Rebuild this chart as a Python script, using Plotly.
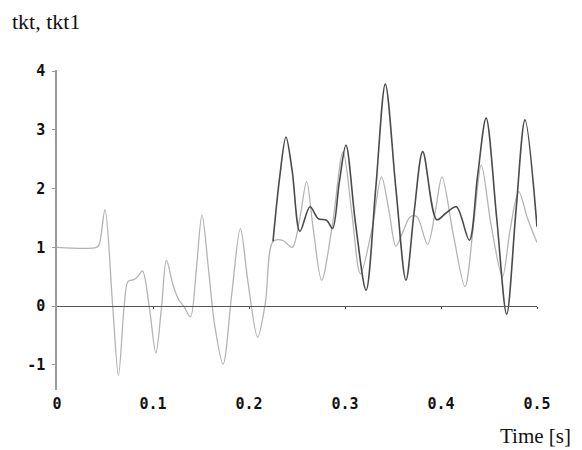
import plotly.graph_objects as go

# tkt1: response sampled at the turning points (time in s)
t_tkt1 = [0.000, 0.041, 0.044, 0.050, 0.058, 0.064, 0.070, 0.074, 0.080, 0.084,
          0.089, 0.096, 0.103, 0.109, 0.114, 0.121, 0.127, 0.132, 0.139, 0.145,
          0.151, 0.158, 0.164, 0.173, 0.182, 0.191, 0.199, 0.209, 0.217, 0.225,
          0.235, 0.245, 0.253, 0.260, 0.267, 0.2757, 0.287, 0.298, 0.307, 0.316,
          0.328, 0.338, 0.346, 0.353, 0.360, 0.368, 0.375, 0.386, 0.394, 0.401,
          0.413, 0.425, 0.434, 0.442, 0.452, 0.464, 0.472, 0.481, 0.490, 0.500]
y_tkt1 = [1.00, 1.00, 1.05, 1.64, 0.00, -1.18, 0.00, 0.42, 0.45, 0.50,
          0.60, 0.00, -0.80, 0.00, 0.78, 0.35, 0.10, 0.00, -0.18, 0.60,
          1.55, 0.60, -0.30, -0.99, 0.20, 1.32, 0.40, -0.53, 0.05, 1.10,
          1.12, 1.00, 1.50, 2.12, 1.30, 0.44, 1.40, 2.63, 1.60, 0.55,
          1.30, 2.20, 1.60, 1.02, 1.25, 1.52, 1.52, 1.05, 1.60, 2.20,
          1.20, 0.33, 1.40, 2.40, 1.40, 0.50, 1.30, 1.95, 1.50, 1.08]

# tkt: identical to tkt1 until ~0.225 s, then diverges
t_tkt = [0.225, 0.232, 0.2385, 0.245, 0.253, 0.2635, 0.272, 0.281, 0.287,
         0.294, 0.301, 0.311, 0.322, 0.332, 0.342, 0.353, 0.3635, 0.372, 0.381,
         0.3955, 0.405, 0.416, 0.4295, 0.438, 0.447, 0.458, 0.4684, 0.478, 0.4875,
         0.500]
y_tkt = [1.10, 2.20, 2.88, 2.30, 1.27, 1.69, 1.49, 1.46, 1.32,
         2.10, 2.74, 1.40, 0.27, 2.00, 3.78, 2.00, 0.44, 1.60, 2.63,
         1.47, 1.58, 1.69, 1.12, 2.20, 3.20, 1.50, -0.14, 1.60, 3.17,
         1.35]

x_ticks = [0, 0.1, 0.2, 0.3, 0.4, 0.5]
x_ticktext = ["0", "0.1", "0.2", "0.3", "0.4", "0.5"]
y_ticks = [-1, 0, 1, 2, 3, 4]
y_ticktext = ["-1", "0", "1", "2", "3", "4"]

Y_MIN, Y_MAX = -1.43, 4.02
tick_font = dict(family="DejaVu Sans Mono", size=15, color="#111111", weight="bold")

fig = go.Figure()
fig.add_trace(go.Scatter(
    x=t_tkt1, y=y_tkt1, mode="lines", name="tkt1",
    line=dict(color="#b4b4b4", width=1.3, shape="spline", smoothing=0.9),
    xaxis="x", yaxis="y", hoverinfo="skip"))
fig.add_trace(go.Scatter(
    x=t_tkt, y=y_tkt, mode="lines", name="tkt",
    line=dict(color="#4a4a4a", width=1.6, shape="spline", smoothing=0.9),
    xaxis="x2", yaxis="y", hoverinfo="skip"))

fig.update_layout(
    width=582, height=450,
    margin=dict(l=57, r=45, t=70, b=60),
    paper_bgcolor="white", plot_bgcolor="white",
    showlegend=False,
    xaxis=dict(
        range=[0, 0.5], domain=[0, 1], anchor="y",
        tickvals=x_ticks, ticktext=x_ticktext, tickfont=tick_font,
        ticks="", showline=False, showgrid=False, zeroline=False,
        ticklabelstandoff=3),
    # time axis drawn through y = 0
    xaxis2=dict(
        range=[0, 0.5], overlaying="x", anchor="free",
        position=(0 - Y_MIN) / (Y_MAX - Y_MIN),
        tickvals=x_ticks[1:], showticklabels=False,
        ticks="outside", ticklen=2, tickcolor="#444444", tickwidth=1,
        showline=True, linecolor="#555555", linewidth=1.4,
        showgrid=False, zeroline=False),
    yaxis=dict(
        range=[Y_MIN, Y_MAX], anchor="x",
        tickvals=y_ticks, ticktext=y_ticktext, tickfont=tick_font,
        ticks="outside", ticklen=3, tickcolor="#999999",
        showline=True, linecolor="#9a9a9a", linewidth=1.5,
        showgrid=False, zeroline=False, ticklabelstandoff=4),
    annotations=[
        dict(text="tkt, tkt1", xref="paper", yref="paper",
             x=(10 - 57) / 480, y=(390 - 21) / 320,
             xanchor="left", yanchor="middle", showarrow=False,
             font=dict(family="Liberation Serif", size=22, color="#111111")),
        dict(text="Time [s]", xref="paper", yref="paper",
             x=(573 - 57) / 480, y=(390 - 436) / 320,
             xanchor="right", yanchor="middle", showarrow=False,
             font=dict(family="Liberation Serif", size=21, color="#111111")),
    ],
)

fig.write_html("out.html")
